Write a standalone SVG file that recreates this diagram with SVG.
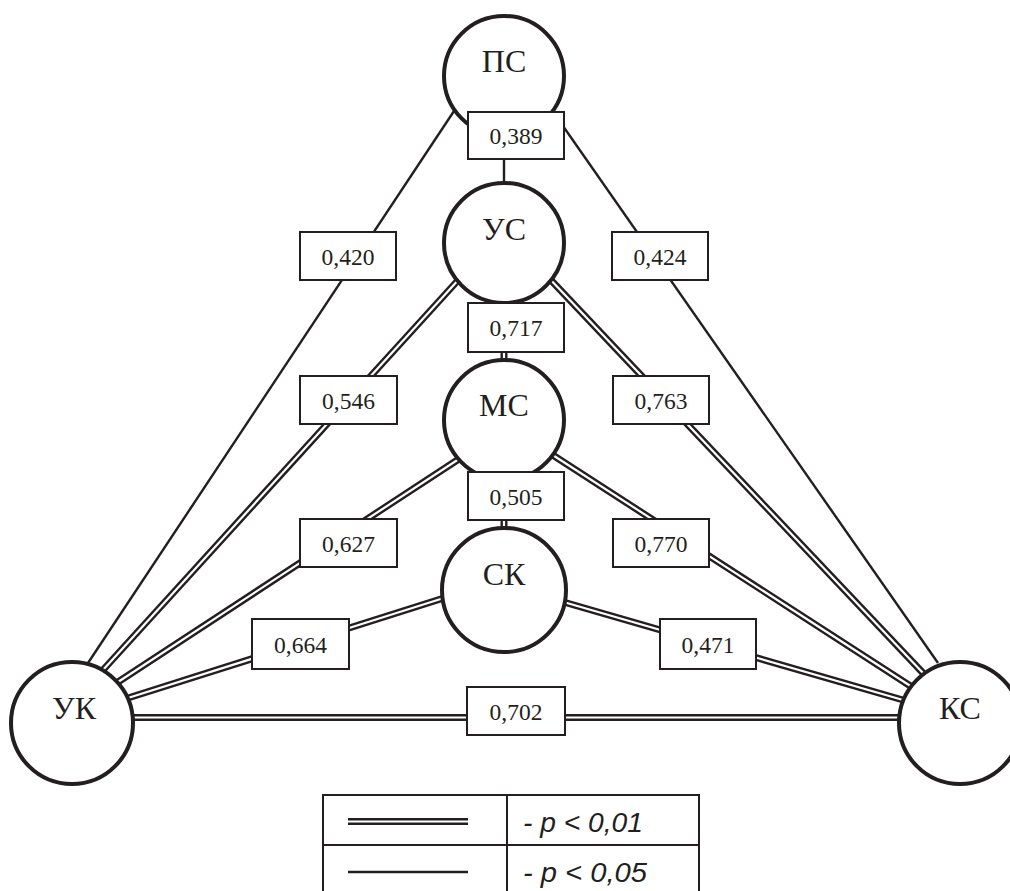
<svg xmlns="http://www.w3.org/2000/svg" xmlns:xlink="http://www.w3.org/1999/xlink" width="1010" height="891" viewBox="0 0 1010 891">
<style>
.node{fill:#fff;stroke:#231f20;stroke-width:4}
.box{fill:#fff;stroke:#231f20;stroke-width:2}
.lbl{font-family:"Liberation Serif",serif;font-size:32px;fill:#231f20;text-anchor:middle}
.num{font-family:"Liberation Serif",serif;font-size:23.5px;fill:#231f20;text-anchor:middle}
.sgl{fill:none;stroke:#231f20;stroke-width:2.4}
.dblb{fill:none;stroke:#231f20;stroke-width:7}
.dblw{fill:none;stroke:#fff;stroke-width:2.2}
.leg{font-family:"Liberation Sans",sans-serif;font-style:italic;font-size:27px;fill:#231f20}
</style>
<defs>
<path id="e4" d="M461,277 L103,670"/>
<path id="e5" d="M548,277 L923,673"/>
<path id="e6" d="M504,298 L504,365"/>
<path id="e7" d="M462,457 L118,682"/>
<path id="e8" d="M548,452 L912,687"/>
<path id="e9" d="M504,476 L504,532"/>
<path id="e10" d="M447,597 L128,698"/>
<path id="e11" d="M560,601 L903,700"/>
<path id="e12" d="M128,717.5 L904,717.5"/>
</defs>
<g id="connectors">
<path class="sgl" d="M504,100 L504,200"/>
<path class="sgl" d="M458,105 L88,663"/>
<path class="sgl" d="M549,106 L938,663"/>
<use xlink:href="#e4" class="dblb"/><use xlink:href="#e4" class="dblw"/>
<use xlink:href="#e5" class="dblb"/><use xlink:href="#e5" class="dblw"/>
<use xlink:href="#e6" class="dblb"/><use xlink:href="#e6" class="dblw"/>
<use xlink:href="#e7" class="dblb"/><use xlink:href="#e7" class="dblw"/>
<use xlink:href="#e8" class="dblb"/><use xlink:href="#e8" class="dblw"/>
<use xlink:href="#e9" class="dblb"/><use xlink:href="#e9" class="dblw"/>
<use xlink:href="#e10" class="dblb"/><use xlink:href="#e10" class="dblw"/>
<use xlink:href="#e11" class="dblb"/><use xlink:href="#e11" class="dblw"/>
<use xlink:href="#e12" class="dblb"/><use xlink:href="#e12" class="dblw"/>
</g>
<g id="node-PS"><circle class="node" cx="504" cy="76" r="60"/><text class="lbl" x="504" y="72">ПС</text></g>
<g id="node-US"><circle class="node" cx="504" cy="243" r="60"/><text class="lbl" x="504" y="240">УС</text></g>
<g id="node-MS"><circle class="node" cx="504" cy="420" r="60"/><text class="lbl" x="504" y="416">МС</text></g>
<g id="node-SK"><circle class="node" cx="504" cy="590" r="62"/><text class="lbl" x="504" y="585">СК</text></g>
<g id="node-UK"><circle class="node" cx="72" cy="723" r="61"/><text class="lbl" x="74" y="719">УК</text></g>
<g id="node-KS"><circle class="node" cx="960" cy="723" r="61"/><text class="lbl" x="960" y="719">КС</text></g>
<g id="label-389"><rect class="box" x="468" y="112" width="96" height="47"/><text class="num" x="516" y="144">0,389</text></g>
<g id="label-420"><rect class="box" x="300" y="232" width="96" height="48"/><text class="num" x="348" y="264.5">0,420</text></g>
<g id="label-424"><rect class="box" x="612" y="232" width="96" height="48"/><text class="num" x="660" y="264.5">0,424</text></g>
<g id="label-717"><rect class="box" x="468" y="303" width="96" height="49"/><text class="num" x="516" y="336">0,717</text></g>
<g id="label-546"><rect class="box" x="300" y="376" width="97" height="48"/><text class="num" x="348.5" y="408.5">0,546</text></g>
<g id="label-763"><rect class="box" x="613" y="376" width="96" height="48"/><text class="num" x="661" y="408.5">0,763</text></g>
<g id="label-505"><rect class="box" x="468" y="472" width="96" height="48"/><text class="num" x="516" y="504.5">0,505</text></g>
<g id="label-627"><rect class="box" x="300" y="519" width="97" height="48"/><text class="num" x="348.5" y="551.5">0,627</text></g>
<g id="label-770"><rect class="box" x="613" y="519" width="96" height="48"/><text class="num" x="661" y="551.5">0,770</text></g>
<g id="label-664"><rect class="box" x="252" y="619" width="97" height="50"/><text class="num" x="300.5" y="652.5">0,664</text></g>
<g id="label-471"><rect class="box" x="660" y="619" width="96" height="50"/><text class="num" x="708" y="652.5">0,471</text></g>
<g id="label-702"><rect class="box" x="467" y="687" width="98" height="48"/><text class="num" x="516" y="719.5">0,702</text></g>
<g id="legend">
<rect x="323" y="795" width="376" height="110" fill="none" stroke="#231f20" stroke-width="2"/>
<line x1="323" y1="845" x2="699" y2="845" stroke="#231f20" stroke-width="2"/>
<line x1="507" y1="795" x2="507" y2="905" stroke="#231f20" stroke-width="2"/>
<line class="dblb" x1="348" y1="821.5" x2="468" y2="821.5"/>
<line class="dblw" x1="348" y1="821.5" x2="468" y2="821.5"/>
<line class="sgl" x1="348" y1="872" x2="468" y2="872"/>
<text class="leg" x="523" y="832" textLength="120" lengthAdjust="spacingAndGlyphs">- p &lt; 0,01</text>
<text class="leg" x="523" y="882" textLength="124" lengthAdjust="spacingAndGlyphs">- p &lt; 0,05</text>
</g>
</svg>
